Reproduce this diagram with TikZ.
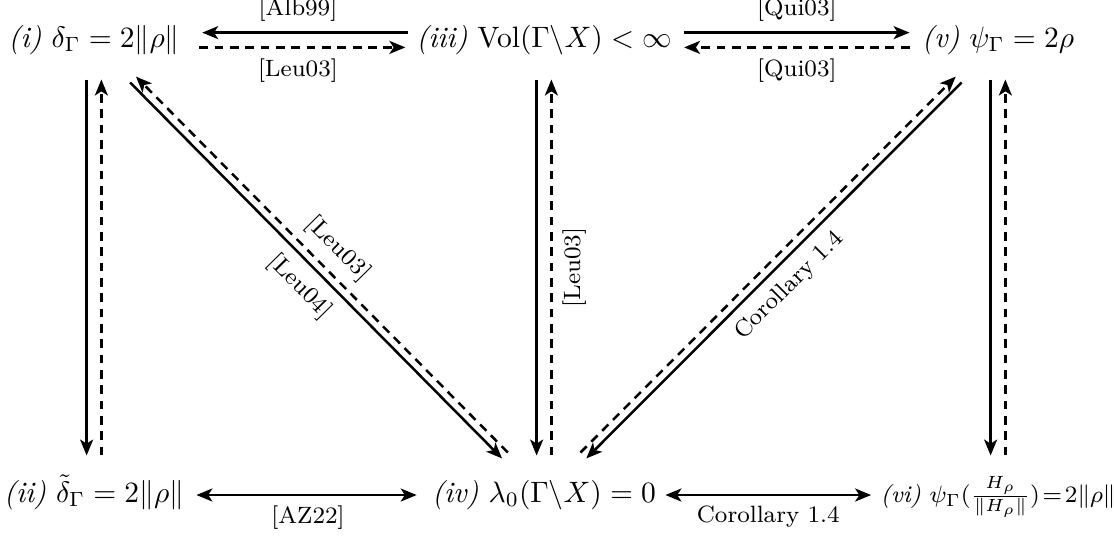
\documentclass[tikz,border=0pt]{standalone}
\usetikzlibrary{arrows.meta}

\begin{document}
\begin{tikzpicture}[
    x=0.339pt, y=-0.339pt,
    cell/.style={inner xsep=0pt, inner ysep=8.2pt, text height=7.5pt, text depth=2.5pt},
    imp/.style={-{Stealth[length=5.4pt, width=4.4pt, inset=1.4pt]}, line width=0.85pt},
    dimp/.style={imp, dash pattern=on 3pt off 2.2pt},
    biimp/.style={{Stealth[length=5.4pt, width=4.4pt, inset=1.4pt]}-{Stealth[length=5.4pt, width=4.4pt, inset=1.4pt]}, line width=0.85pt},
    lbl/.style={font=\footnotesize}
]
\useasboundingbox (0,0) rectangle (1114,537);

\node[cell] (i) at (94,40) {\textit{(i)} $\delta_\Gamma = 2\|\rho\|$};
\node[cell] (iii) at (544,40) {\textit{(iii)} $\mathrm{Vol}(\Gamma\backslash X) < \infty$};
\node[cell] (v) at (998,40) {\textit{(v)} $\psi_\Gamma = 2\rho$};

\node[cell] (ii) at (94,495) {\textit{(ii)} $\tilde\delta_\Gamma = 2\|\rho\|$};
\node[cell] (iv) at (544,495) {\textit{(iv)} $\lambda_0(\Gamma\backslash X) = 0$};
\node[cell, font=\fontsize{8.1pt}{10pt}\selectfont] (vi) at (998,495) {\textit{(vi)} $\psi_\Gamma(\frac{H_\rho}{\|H_\rho\|})\!=\!2\|\rho\|$};

% top row
\draw[imp, transform canvas={yshift=2.5pt}, shorten <=2.5pt, shorten >=7.5pt] (iii) -- node[lbl, above]{[Alb99]} (i);
\draw[dimp, transform canvas={yshift=-2.5pt}, shorten <=6.5pt, shorten >=3.5pt] (i) -- node[lbl, below]{[Leu03]} (iii);
\draw[imp, transform canvas={yshift=2.5pt}, shorten <=4pt, shorten >=4pt] (iii) -- node[lbl, above]{[Qui03]} (v);
\draw[dimp, transform canvas={yshift=-2.5pt}, shorten <=4pt, shorten >=4pt] (v) -- node[lbl, below]{[Qui03]} (iii);

% verticals
\draw[imp, transform canvas={xshift=-2.5pt}] (i) -- (ii);
\draw[dimp, transform canvas={xshift=2.5pt}] (ii) -- (i);
\draw[imp, transform canvas={xshift=-2.5pt}] (iii) -- (iv);
\draw[dimp, transform canvas={xshift=2.5pt}] (iv) -- node[lbl, rotate=90, anchor=north]{[Leu03]} (iii);
\draw[imp, transform canvas={xshift=-2.5pt}] (v) -- (vi);
\draw[dimp, transform canvas={xshift=2.5pt}] (vi) -- (v);

% diagonals
\draw[imp, transform canvas={shift={(-1pt,-1pt)}}] (i) -- node[lbl, sloped, below]{[Leu04]} (iv);
\draw[dimp, transform canvas={shift={(1pt,1pt)}}] (iv) -- node[lbl, sloped, above]{[Leu03]} (i);
\draw[imp, transform canvas={shift={(1pt,-1pt)}}] (v) -- node[lbl, sloped, below]{Corollary 1.4} (iv);
\draw[dimp, transform canvas={shift={(-1pt,1pt)}}] (iv) -- (v);

% bottom row
\draw[biimp, shorten <=4pt, shorten >=5pt] (ii) -- node[lbl, below]{[AZ22]} (iv);
\draw[biimp, shorten <=3pt, shorten >=3pt] (iv) -- node[lbl, below]{Corollary 1.4} (vi);

\end{tikzpicture}
\end{document}
